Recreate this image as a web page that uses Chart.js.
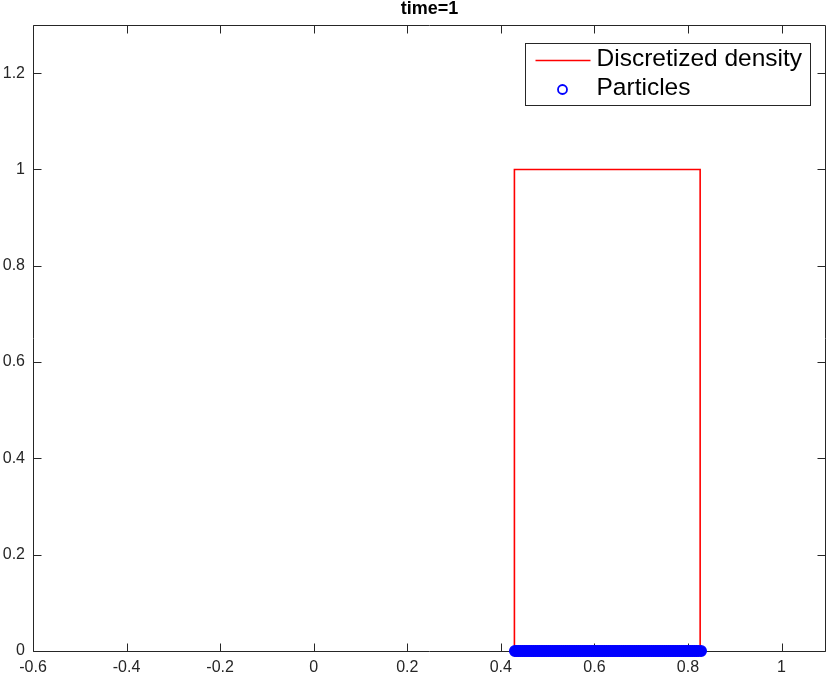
<!DOCTYPE html>
<html>
<head>
<meta charset="utf-8">
<script src="https://cdn.jsdelivr.net/npm/chart.js@4/dist/chart.umd.min.js"></script>
<style>
  html, body { margin: 0; padding: 0; background: #ffffff; }
  #wrap { width: 828px; height: 679px; }
</style>
</head>
<body>
<div id="wrap"><canvas id="c" width="828" height="679"></canvas></div>
<script>
// ---- data ----
const titleText = 'time=1';
const densityLabel = 'Discretized density';
const particlesLabel = 'Particles';

const densityX = [0.429, 0.429, 0.826, 0.826];
const densityY = [0, 1, 1, 0];

const particleX = [
  0.430, 0.434, 0.438, 0.442, 0.446, 0.450, 0.454, 0.458, 0.462, 0.466,
  0.470, 0.474, 0.478, 0.482, 0.486, 0.490, 0.494, 0.498, 0.502, 0.506,
  0.510, 0.514, 0.518, 0.522, 0.526, 0.530, 0.534, 0.538, 0.542, 0.546,
  0.550, 0.554, 0.558, 0.562, 0.566, 0.570, 0.574, 0.578, 0.582, 0.586,
  0.590, 0.594, 0.598, 0.602, 0.606, 0.610, 0.614, 0.618, 0.622, 0.626,
  0.630, 0.634, 0.638, 0.642, 0.646, 0.650, 0.654, 0.658, 0.662, 0.666,
  0.670, 0.674, 0.678, 0.682, 0.686, 0.690, 0.694, 0.698, 0.702, 0.706,
  0.710, 0.714, 0.718, 0.722, 0.726, 0.730, 0.734, 0.738, 0.742, 0.746,
  0.750, 0.754, 0.758, 0.762, 0.766, 0.770, 0.774, 0.778, 0.782, 0.786,
  0.790, 0.794, 0.798, 0.802, 0.806, 0.810, 0.814, 0.818, 0.822, 0.828
];
const particleY = 0;

const xTickValues = [-0.6, -0.4, -0.2, 0, 0.2, 0.4, 0.6, 0.8, 1];
const xTickLabels = ['-0.6', '-0.4', '-0.2', '0', '0.2', '0.4', '0.6', '0.8', '1'];
const yTickValues = [0, 0.2, 0.4, 0.6, 0.8, 1, 1.2];
const yTickLabels = ['0', '0.2', '0.4', '0.6', '0.8', '1', '1.2'];

const xMin = -0.6, xMax = 1.095;
const yMin = 0, yMax = 1.3;

// ---- styling ----
const FONT = "'Liberation Sans', Arial, Helvetica, sans-serif";
const axisColor = '#262626';
const red = '#ff0000';
const blue = '#0000ff';
const tickLen = 8;

const frameTicks = {
  id: 'frameTicks',
  beforeDatasetsDraw(chart) {
    const { ctx, chartArea: a, scales: { x, y } } = chart;
    const L = Math.round(a.left) + 0.5, R = Math.round(a.right) - 0.5;
    const T = Math.round(a.top) + 0.5, B = Math.round(a.bottom) + 0.5;
    ctx.save();
    ctx.strokeStyle = axisColor;
    ctx.lineWidth = 1;
    ctx.beginPath();
    ctx.rect(L, T, R - L, B - T);
    x.ticks.forEach(t => {
      const px = Math.round(x.getPixelForValue(t.value)) + 0.5;
      ctx.moveTo(px, B); ctx.lineTo(px, B - tickLen);
      ctx.moveTo(px, T); ctx.lineTo(px, T + tickLen);
    });
    y.ticks.forEach(t => {
      const py = Math.round(y.getPixelForValue(t.value)) + 0.5;
      ctx.moveTo(L, py); ctx.lineTo(L + tickLen, py);
      ctx.moveTo(R, py); ctx.lineTo(R - tickLen, py);
    });
    ctx.stroke();
    ctx.restore();
  }
};

const boxLegend = {
  id: 'boxLegend',
  afterDatasetsDraw(chart) {
    const { ctx, chartArea: a } = chart;
    const ds = chart.data.datasets;
    const bx = Math.round(a.right - 301) + 0.5, by = Math.round(a.top + 18) + 0.5;
    const bw = 285, bh = 62;
    ctx.save();
    ctx.fillStyle = '#ffffff';
    ctx.fillRect(bx, by, bw, bh);
    ctx.strokeStyle = axisColor;
    ctx.lineWidth = 1;
    ctx.strokeRect(bx, by, bw, bh);
    // entry 1: line
    ctx.strokeStyle = ds[0].borderColor;
    ctx.lineWidth = 1.6;
    ctx.beginPath();
    ctx.moveTo(bx + 10, by + 17);
    ctx.lineTo(bx + 65, by + 17);
    ctx.stroke();
    // entry 2: circle
    ctx.strokeStyle = ds[1].borderColor;
    ctx.lineWidth = 1.8;
    ctx.beginPath();
    ctx.arc(bx + 37, by + 46, 4.5, 0, Math.PI * 2);
    ctx.stroke();
    ctx.fillStyle = '#000000';
    ctx.font = '24.5px ' + FONT;
    ctx.textAlign = 'left';
    ctx.textBaseline = 'alphabetic';
    ctx.fillText(ds[0].label, bx + 71, by + 22);
    ctx.fillText(ds[1].label, bx + 71, by + 51);
    ctx.restore();
  }
};

new Chart(document.getElementById('c'), {
  type: 'scatter',
  data: {
    datasets: [
      {
        label: densityLabel,
        data: densityX.map((v, i) => ({ x: v, y: densityY[i] })),
        showLine: true,
        borderColor: red,
        backgroundColor: red,
        borderWidth: 1.6,
        pointRadius: 0,
        tension: 0,
        order: 1
      },
      {
        label: particlesLabel,
        data: particleX.map(v => ({ x: v, y: particleY })),
        showLine: false,
        borderColor: blue,
        backgroundColor: blue,
        pointRadius: 5.3,
        pointBorderWidth: 1.2,
        borderWidth: 1.2,
        clip: false,
        order: 0
      }
    ]
  },
  options: {
    responsive: false,
    animation: false,
    events: [],
    layout: { autoPadding: false, padding: { left: 0, right: 2, top: 0, bottom: 0 } },
    plugins: {
      legend: { display: false },
      tooltip: { enabled: false },
      title: {
        display: true,
        text: titleText,
        fullSize: false,
        color: '#000000',
        font: { family: FONT, size: 18, weight: 'bold', lineHeight: 1 },
        padding: { top: 0, bottom: 7 }
      }
    },
    scales: {
      x: {
        type: 'linear',
        min: xMin, max: xMax,
        grid: { display: false, drawTicks: false },
        border: { display: false },
        afterBuildTicks: s => { s.ticks = xTickValues.map(v => ({ value: v })); },
        afterFit: s => { s.height = 28; s.paddingLeft = 0; s.paddingRight = 0; },
        ticks: {
          color: axisColor,
          padding: 7,
          maxRotation: 0,
          autoSkip: false,
          font: { family: FONT, size: 16 },
          callback: (v, i) => xTickLabels[i]
        }
      },
      y: {
        type: 'linear',
        min: yMin, max: yMax,
        grid: { display: false, drawTicks: false },
        border: { display: false },
        afterBuildTicks: s => { s.ticks = yTickValues.map(v => ({ value: v })); },
        afterFit: s => { s.width = 33; s.paddingTop = 0; s.paddingBottom = 0; },
        ticks: {
          color: axisColor,
          padding: 8,
          autoSkip: false,
          font: { family: FONT, size: 16 },
          callback: (v, i) => yTickLabels[i]
        }
      }
    }
  },
  plugins: [frameTicks, boxLegend]
});
</script>
</body>
</html>
